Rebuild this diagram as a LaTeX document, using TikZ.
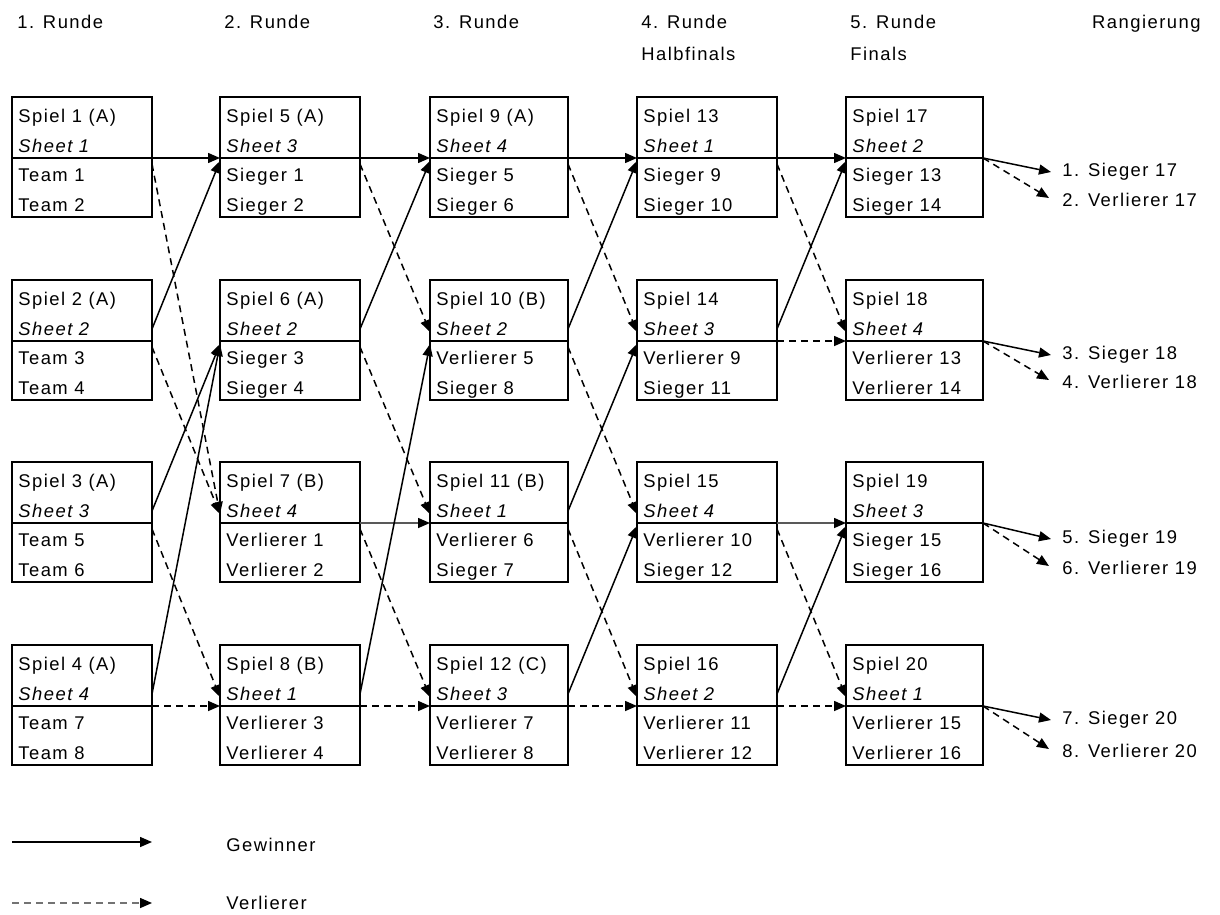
\documentclass[tikz,border=0pt]{standalone}
\usepackage{fontspec}
\setmainfont{Liberation Sans}[LetterSpace=8]
\usetikzlibrary{calc,arrows.meta}

\tikzset{
  spiel/.style={draw, line width=0.9pt, rectangle, inner sep=0pt, outer sep=0pt, minimum height=60pt},
  sepline/.style={line width=0.9pt},
  txt/.style={anchor=base west, inner sep=0pt, font=\fontsize{9.2}{11}\selectfont},
  win/.style={line width=0.75pt, -{Triangle[length=6pt,width=5pt,color=black]}},
  lose/.style={line width=0.75pt, dash pattern=on 3.5pt off 2.5pt, -{Triangle[length=6pt,width=5pt,color=black]}},
}

\newcommand\spielbox[8]{%
  \node[spiel, minimum width=#4*0.5pt, anchor=north west] (#1) at (#2,#3) {};
  \coordinate (#1-i)  at ($(#1.north west)+(0,61)$);
  \coordinate (#1-ia) at ($(#1.north west)+(0,52)$);
  \coordinate (#1-ib) at ($(#1.north west)+(0,64)$);
  \coordinate (#1-o)  at ($(#1.north east)+(0,61)$);
  \coordinate (#1-oa) at ($(#1.north east)+(0,49)$);
  \coordinate (#1-ob) at ($(#1.north east)+(0,67)$);
  \draw[sepline] (#1-i) -- (#1-o);
  \node[txt] (#1-a) at ($(#1.north west)+(6,25)$) {#5};
  \node[txt] (#1-b) at ($(#1.north west)+(6,55)$) {\itshape #6};
  \node[txt] (#1-c) at ($(#1.north west)+(6,84.5)$) {#7};
  \node[txt] (#1-d) at ($(#1.north west)+(6,114)$) {#8};
}

\begin{document}
\begin{tikzpicture}[x=0.5pt, y=-0.5pt]
\useasboundingbox (0,0) rectangle (1220,915);

% headers
\node[txt] (h1) at (17,29) {1. Runde};
\node[txt] (h2) at (224,29) {2. Runde};
\node[txt] (h3) at (433,29) {3. Runde};
\node[txt] (h4) at (641,29) {4. Runde};
\node[txt] (h4b) at (641,61) {Halbfinals};
\node[txt] (h5) at (850,29) {5. Runde};
\node[txt] (h5b) at (850,61) {Finals};
\node[txt, anchor=base east] (h6) at (1201,29) {Rangierung};

% column 1
\spielbox{S1}{12}{97}{140}{Spiel 1 (A)}{Sheet 1}{Team 1}{Team 2}
\spielbox{S2}{12}{280}{140}{Spiel 2 (A)}{Sheet 2}{Team 3}{Team 4}
\spielbox{S3}{12}{462}{140}{Spiel 3 (A)}{Sheet 3}{Team 5}{Team 6}
\spielbox{S4}{12}{645}{140}{Spiel 4 (A)}{Sheet 4}{Team 7}{Team 8}
% column 2
\spielbox{S5}{220}{97}{140}{Spiel 5 (A)}{Sheet 3}{Sieger 1}{Sieger 2}
\spielbox{S6}{220}{280}{140}{Spiel 6 (A)}{Sheet 2}{Sieger 3}{Sieger 4}
\spielbox{S7}{220}{462}{140}{Spiel 7 (B)}{Sheet 4}{Verlierer 1}{Verlierer 2}
\spielbox{S8}{220}{645}{140}{Spiel 8 (B)}{Sheet 1}{Verlierer 3}{Verlierer 4}
% column 3
\spielbox{S9}{430}{97}{138}{Spiel 9 (A)}{Sheet 4}{Sieger 5}{Sieger 6}
\spielbox{S10}{430}{280}{138}{Spiel 10 (B)}{Sheet 2}{Verlierer 5}{Sieger 8}
\spielbox{S11}{430}{462}{138}{Spiel 11 (B)}{Sheet 1}{Verlierer 6}{Sieger 7}
\spielbox{S12}{430}{645}{138}{Spiel 12 (C)}{Sheet 3}{Verlierer 7}{Verlierer 8}
% column 4
\spielbox{S13}{637}{97}{140}{Spiel 13}{Sheet 1}{Sieger 9}{Sieger 10}
\spielbox{S14}{637}{280}{140}{Spiel 14}{Sheet 3}{Verlierer 9}{Sieger 11}
\spielbox{S15}{637}{462}{140}{Spiel 15}{Sheet 4}{Verlierer 10}{Sieger 12}
\spielbox{S16}{637}{645}{140}{Spiel 16}{Sheet 2}{Verlierer 11}{Verlierer 12}
% column 5
\spielbox{S17}{846}{97}{137}{Spiel 17}{Sheet 2}{Sieger 13}{Sieger 14}
\spielbox{S18}{846}{280}{137}{Spiel 18}{Sheet 4}{Verlierer 13}{Verlierer 14}
\spielbox{S19}{846}{462}{137}{Spiel 19}{Sheet 3}{Sieger 15}{Sieger 16}
\spielbox{S20}{846}{645}{137}{Spiel 20}{Sheet 1}{Verlierer 15}{Verlierer 16}

% round 1 -> 2
\draw[win] (S1-o) -- (S5-i);
\draw[lose] (S1-ob) -- (S7-ia);
\draw[win] (S2-oa) -- (S5-ib);
\draw[lose] (S2-ob) -- (S7-ia);
\draw[win] (S3-oa) -- (S6-ib);
\draw[lose] (S3-ob) -- (S8-ia);
\draw[win] (S4-oa) -- (S6-ib);
\draw[lose] (S4-o) -- (S8-i);
% round 2 -> 3
\draw[win] (S5-o) -- (S9-i);
\draw[lose] (S5-ob) -- (S10-ia);
\draw[win] (S6-oa) -- (S9-ib);
\draw[lose] (S6-ob) -- (S11-ia);
\draw[win, draw=black!65] (S7-o) -- (S11-i);
\draw[lose] (S7-ob) -- (S12-ia);
\draw[win] (S8-oa) -- (S10-ib);
\draw[lose] (S8-o) -- (S12-i);
% round 3 -> 4
\draw[win] (S9-o) -- (S13-i);
\draw[lose] (S9-ob) -- (S14-ia);
\draw[win] (S10-oa) -- (S13-ib);
\draw[lose] (S10-ob) -- (S15-ia);
\draw[win] (S11-oa) -- (S14-ib);
\draw[lose] (S11-ob) -- (S16-ia);
\draw[win] (S12-oa) -- (S15-ib);
\draw[lose] (S12-o) -- (S16-i);
% round 4 -> 5
\draw[win] (S13-o) -- (S17-i);
\draw[lose] (S13-ob) -- (S18-ia);
\draw[win] (S14-oa) -- (S17-ib);
\draw[lose] (S14-o) -- (S18-i);
\draw[win, draw=black!65] (S15-o) -- (S19-i);
\draw[lose] (S15-ob) -- (S20-ia);
\draw[win] (S16-oa) -- (S19-ib);
\draw[lose] (S16-o) -- (S20-i);

% ranking
\node[txt, anchor=west] (R1) at (1062,172) {1. Sieger 17};
\node[txt, anchor=west] (R2) at (1062,200) {2. Verlierer 17};
\node[txt, anchor=west] (R3) at (1062,355) {3. Sieger 18};
\node[txt, anchor=west] (R4) at (1062,382) {4. Verlierer 18};
\node[txt, anchor=west] (R5) at (1062,539) {5. Sieger 19};
\node[txt, anchor=west] (R6) at (1062,568) {6. Verlierer 19};
\node[txt, anchor=west] (R7) at (1062,720) {7. Sieger 20};
\node[txt, anchor=west] (R8) at (1062,751) {8. Verlierer 20};
\draw[win] (S17-o) -- ($(R1.west)+(-11,0)$);
\draw[lose] (S17-o) -- ($(R2.west)+(-13,-2)$);
\draw[win] (S18-o) -- ($(R3.west)+(-11,0)$);
\draw[lose] (S18-o) -- ($(R4.west)+(-13,-2)$);
\draw[win] (S19-o) -- ($(R5.west)+(-11,0)$);
\draw[lose] (S19-o) -- ($(R6.west)+(-13,-2)$);
\draw[win] (S20-o) -- ($(R7.west)+(-11,0)$);
\draw[lose] (S20-o) -- ($(R8.west)+(-13,-2)$);

% legend
\coordinate (La) at (12,842);
\coordinate (Lb) at (152,842);
\coordinate (Lc) at (12,903);
\coordinate (Ld) at (152,903);
\draw[win] (La) -- (Lb);
\draw[lose, draw=black!55] (Lc) -- (Ld);
\node[txt, anchor=west] (G) at (226,845) {Gewinner};
\node[txt, anchor=west] (V) at (226,903) {Verlierer};
\end{tikzpicture}
\end{document}
